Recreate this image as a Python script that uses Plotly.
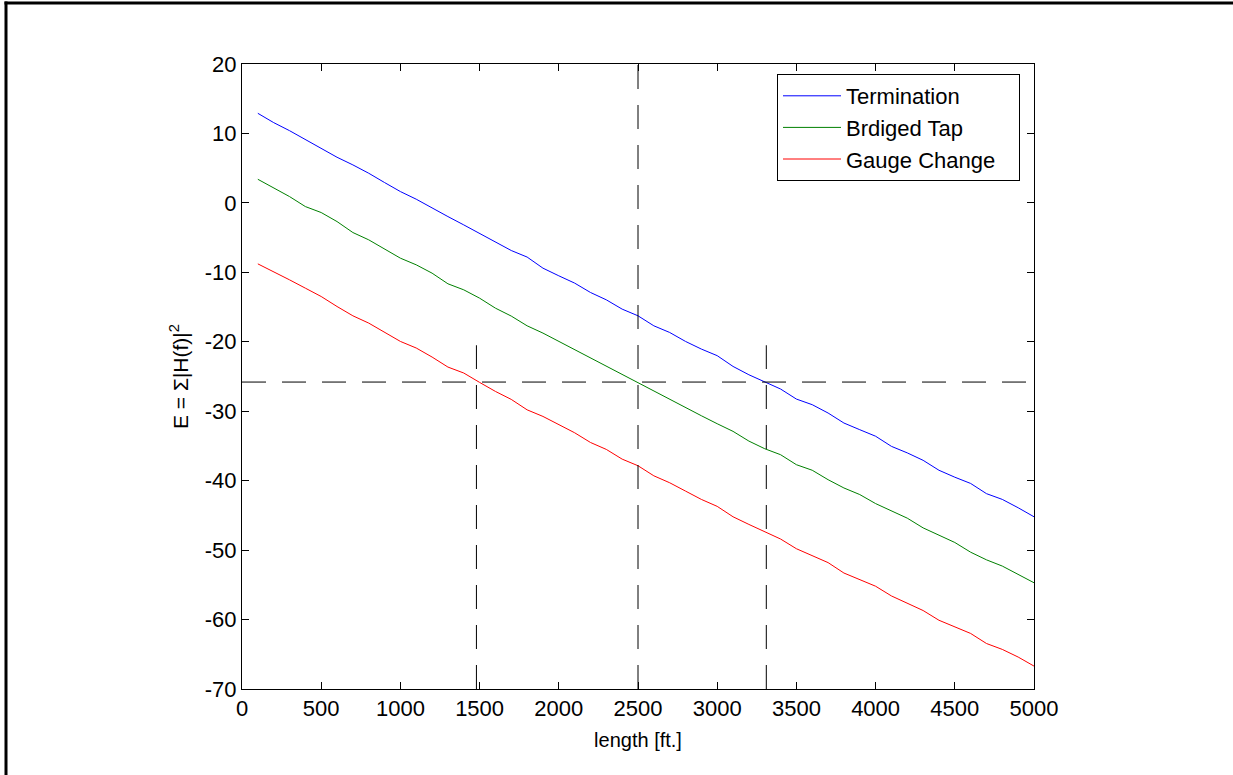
import plotly.graph_objects as go

length_ft = list(range(100, 5001, 100))

termination = [12.9, 11.56, 10.4, 9.16, 7.87, 6.57, 5.47, 4.27, 2.93, 1.63, 0.53, -0.77, -1.97, -3.17, -4.36, -5.56,
               -6.86, -7.8, -9.4, -10.5, -11.55, -12.9, -13.96, -15.3, -16.26, -17.7, -18.66, -19.95, -21.05, -22.0, -23.55, -24.75, -25.75,
               -26.8, -28.25, -29.06, -30.26, -31.7, -32.66, -33.6, -35.06, -36.0, -37.07, -38.5, -39.5, -40.4, -41.87, -42.7, -43.9, -45.2]

bridged_tap = [3.4, 2.1, 0.91, -0.53, -1.39, -2.69, -4.27, -5.32, -6.67, -7.96, -8.92, -10.12, -11.65, -12.52, -13.72, -15.16,
               -16.3, -17.7, -18.75, -19.95, -21.05, -22.35, -23.45, -24.75, -25.85, -27.15, -28.25, -29.55, -30.65, -31.8, -32.9, -34.3, -35.4,
               -36.26, -37.7, -38.5, -39.86, -41.05, -42.0, -43.3, -44.4, -45.4, -46.8, -47.8, -48.9, -50.3, -51.4, -52.3, -53.5, -54.7]

gauge_change = [-8.78, -9.88, -11.08, -12.28, -13.48, -14.92, -16.26, -17.31, -18.66, -19.95, -20.9, -22.2, -23.64, -24.5, -25.85, -27.15,
                -28.3, -29.8, -30.75, -31.95, -33.1, -34.5, -35.5, -36.9, -37.85, -39.3, -40.3, -41.5, -42.7, -43.7, -45.2, -46.3, -47.4,
                -48.4, -49.8, -50.8, -51.8, -53.3, -54.2, -55.2, -56.6, -57.6, -58.7, -60.1, -61.05, -62.0, -63.45, -64.3, -65.4, -66.7]

series_names = ["Termination", "Brdiged Tap", "Gauge Change"]
series_colors = ["#0000FF", "#008000", "#FF0000"]

threshold_E = -25.8
crossing_lengths = [1480, 2500, 3310]
crossing_tops = [-20.5, 20, -20.5]

x_range = [0, 5000]
y_range = [-70, 20]
x_ticks = [0, 500, 1000, 1500, 2000, 2500, 3000, 3500, 4000, 4500, 5000]
y_ticks = [-70, -60, -50, -40, -30, -20, -10, 0, 10, 20]

FONT = "Liberation Sans, Arial, sans-serif"
DASH = "24px,16px"
PAD = "\u00a0" * 3

fig = go.Figure()
for name, vals, col in zip(series_names, [termination, bridged_tap, gauge_change], series_colors):
    fig.add_trace(go.Scatter(x=length_ft, y=vals, mode="lines", name=name + PAD,
                             line=dict(color=col, width=1)))

fig.add_trace(go.Scatter(x=x_range, y=[threshold_E, threshold_E], mode="lines", showlegend=False,
                         line=dict(color="black", width=1, dash=DASH), hoverinfo="skip"))
for xl, top in zip(crossing_lengths, crossing_tops):
    fig.add_trace(go.Scatter(x=[xl, xl], y=[y_range[0], top], mode="lines", showlegend=False,
                             line=dict(color="black", width=1, dash=DASH), hoverinfo="skip"))

W, H = 1233, 775
ml, mr, mt, mb = 242, 199, 64, 86
pw, ph = W - ml - mr, H - mt - mb

def px_x(p):
    return (p - ml) / pw

def px_y(p):
    return (H - mb - p) / ph

# outer figure frame (only left and top edges fall inside the picture)
fig.add_shape(type="line", xref="paper", yref="paper",
              x0=px_x(6), x1=px_x(6), y0=px_y(1.5), y1=px_y(H + 5),
              line=dict(color="black", width=3), layer="above")
fig.add_shape(type="line", xref="paper", yref="paper",
              x0=px_x(4.5), x1=px_x(W + 5), y0=px_y(3), y1=px_y(3),
              line=dict(color="black", width=3), layer="above")

axis_common = dict(showgrid=False, zeroline=False, showline=True, linecolor="black", linewidth=1,
                   mirror="allticks", ticks="inside", ticklen=7, tickcolor="black", tickwidth=1,
                   tickfont=dict(family=FONT, size=22, color="black"))

fig.update_layout(
    width=W, height=H,
    margin=dict(l=ml, r=mr, t=mt, b=mb, autoexpand=False),
    paper_bgcolor="white", plot_bgcolor="white",
    font=dict(family=FONT, size=21, color="black"),
    xaxis=dict(range=x_range, tickvals=x_ticks, ticktext=[str(t) for t in x_ticks],
               title=dict(text="length [ft.]", font=dict(family=FONT, size=20), standoff=12),
               **axis_common),
    yaxis=dict(range=y_range, tickvals=y_ticks, ticktext=[str(t) for t in y_ticks],
               title=dict(text="E = Σ|H(f)|<sup>2</sup>", font=dict(family=FONT, size=21), standoff=10),
               **axis_common),
    legend=dict(x=px_x(777), y=px_y(74), xanchor="left", yanchor="top",
                bgcolor="white", bordercolor="black", borderwidth=1, itemwidth=58,
                font=dict(family=FONT, size=22, color="black")),
    showlegend=True,
)

fig.write_html("out.html", config={"displayModeBar": False},
               post_script="document.body.style.margin='0';document.body.style.overflow='hidden';")
